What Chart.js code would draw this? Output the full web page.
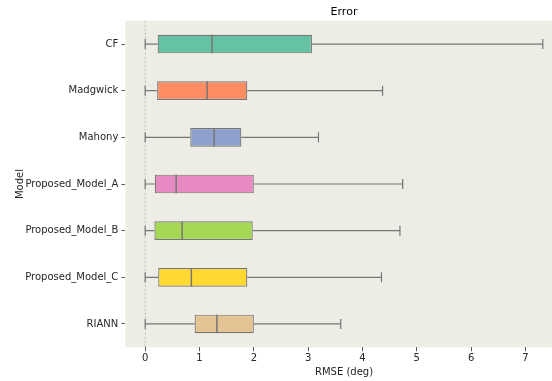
<!DOCTYPE html>
<html>
<head>
<meta charset="utf-8">
<script src="https://cdn.jsdelivr.net/npm/chart.js@4/dist/chart.umd.min.js"></script>
<style>
  html, body { margin: 0; padding: 0; background: #fff; overflow: hidden; }
  #wrap { width: 570px; height: 381px; }
</style>
</head>
<body>
<div id="wrap"><canvas id="chartBox" width="570" height="381"></canvas></div>
<script>
// Box plot de RMSE por modelo (barras flotantes + bigotes dibujados con las escalas)
const models = ['CF', 'Madgwick', 'Mahony', 'Proposed_Model_A', 'Proposed_Model_B', 'Proposed_Model_C', 'RIANN'];
const whiskerLow = [0, 0, 0, 0, 0, 0, 0];
const q1 = [0.23, 0.22, 0.83, 0.18, 0.17, 0.24, 0.91];
const median = [1.23, 1.14, 1.27, 0.57, 0.68, 0.85, 1.32];
const q3 = [3.07, 1.88, 1.77, 2.00, 1.98, 1.88, 2.00];
const whiskerHigh = [7.32, 4.37, 3.19, 4.74, 4.69, 4.35, 3.60];
const colors = ['#66c2a5', '#fc8d62', '#8da0cb', '#e78ac3', '#a6d854', '#ffd92f', '#e5c494'];

const EDGE = '#767676';
const FONT = { family: 'DejaVu Sans', size: 10 };

const boxPlugin = {
  id: 'boxPlugin',
  beforeDraw(chart) {
    const { ctx, chartArea: a } = chart;
    ctx.save();
    ctx.fillStyle = '#edece5';
    ctx.fillRect(a.left, a.top, a.right - a.left, a.bottom - a.top);
    ctx.restore();
  },
  beforeDatasetsDraw(chart) {
    const { ctx, chartArea: a, scales: { x, y } } = chart;
    ctx.save();
    // línea punteada en cero
    const x0 = x.getPixelForValue(0);
    ctx.strokeStyle = '#b4b4b4';
    ctx.lineWidth = 0.8;
    ctx.setLineDash([2, 2]);
    ctx.beginPath();
    ctx.moveTo(x0, a.top);
    ctx.lineTo(x0, a.bottom);
    ctx.stroke();
    ctx.setLineDash([]);
    // bigotes
    ctx.strokeStyle = EDGE;
    ctx.lineWidth = 1.2;
    models.forEach((m, i) => {
      const yc = y.getPixelForValue(i);
      const xl = x.getPixelForValue(whiskerLow[i]);
      const xh = x.getPixelForValue(whiskerHigh[i]);
      ctx.beginPath();
      ctx.moveTo(xl, yc); ctx.lineTo(x.getPixelForValue(q1[i]), yc);
      ctx.moveTo(x.getPixelForValue(q3[i]), yc); ctx.lineTo(xh, yc);
      ctx.moveTo(xl, yc - 5); ctx.lineTo(xl, yc + 5);
      ctx.moveTo(xh, yc - 5); ctx.lineTo(xh, yc + 5);
      ctx.stroke();
    });
    ctx.restore();
  },
  afterDatasetsDraw(chart) {
    const { ctx, scales: { x } } = chart;
    const meta = chart.getDatasetMeta(0);
    ctx.save();
    ctx.strokeStyle = EDGE;
    ctx.lineWidth = 1.5;
    models.forEach((m, i) => {
      const bar = meta.data[i];
      const xm = x.getPixelForValue(median[i]);
      ctx.beginPath();
      ctx.moveTo(xm, bar.y - bar.height / 2);
      ctx.lineTo(xm, bar.y + bar.height / 2);
      ctx.stroke();
    });
    ctx.restore();
  }
};

window.addEventListener('load', () => {
  new Chart(document.getElementById('chartBox'), {
    type: 'bar',
    data: {
      labels: models,
      datasets: [{
        data: models.map((m, i) => [q1[i], q3[i]]),
        backgroundColor: colors,
        borderColor: EDGE,
        borderWidth: 1.2,
        borderSkipped: false,
        barPercentage: 0.4,
        categoryPercentage: 1
      }]
    },
    options: {
      indexAxis: 'y',
      responsive: false,
      animation: false,
      layout: { padding: { left: 0, right: 7.3, top: 0, bottom: 0 } },
      plugins: {
        legend: { display: false },
        tooltip: { enabled: false }
      },
      scales: {
        x: {
          type: 'linear',
          min: -0.366,
          max: 7.686,
          border: { display: false },
          grid: { drawOnChartArea: false, tickLength: 4, tickColor: '#333', tickWidth: 0.8 },
          ticks: { stepSize: 1, includeBounds: false, padding: 1.5, color: '#262626', font: FONT },
          title: { display: true, text: 'RMSE (deg)', color: '#262626', font: FONT, padding: { top: 0, bottom: 3 } },
          afterFit: (s) => { s.height = 33.7; }
        },
        // eje superior solo para el título centrado sobre el área del gráfico
        xTop: {
          type: 'linear',
          position: 'top',
          min: -0.366,
          max: 7.686,
          border: { display: false },
          grid: { display: false },
          ticks: { display: false },
          title: { display: true, text: 'Error', color: '#000', font: { family: 'DejaVu Sans', size: 11 }, padding: { top: 6, bottom: 0 } },
          afterFit: (s) => { s.height = 20.7; }
        },
        y: {
          type: 'category',
          border: { display: false },
          grid: { drawOnChartArea: false, offset: false, tickLength: 4, tickColor: '#333', tickWidth: 0.8 },
          ticks: { padding: 3, color: '#262626', font: FONT },
          title: { display: true, text: 'Model', color: '#262626', font: FONT, padding: { top: 14, bottom: 0 } },
          afterFit: (s) => { s.width = 125.3; }
        }
      }
    },
    plugins: [boxPlugin]
  });
});
</script>
</body>
</html>
